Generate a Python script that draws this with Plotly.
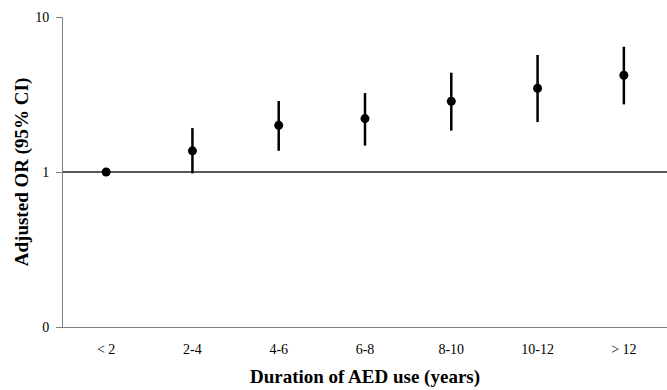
import plotly.graph_objects as go

categories = ["< 2", "2-4", "4-6", "6-8", "8-10", "10-12", "> 12"]
odds_ratio = [1.0, 1.37, 2.0, 2.21, 2.86, 3.47, 4.21]
ci_lower = [1.0, 0.98, 1.37, 1.48, 1.85, 2.10, 2.73]
ci_upper = [1.0, 1.92, 2.87, 3.23, 4.37, 5.69, 6.43]
y_tickvals = [0.1, 1, 10]
y_ticktext = ["0", "1", "10"]

err_plus = [u - o for u, o in zip(ci_upper, odds_ratio)]
err_minus = [o - l for o, l in zip(odds_ratio, ci_lower)]

fig = go.Figure()
fig.add_trace(go.Scatter(
    x=categories, y=odds_ratio, mode="markers",
    marker=dict(color="black", size=9),
    error_y=dict(type="data", symmetric=False, array=err_plus, arrayminus=err_minus,
                 color="black", thickness=2.5, width=0),
    showlegend=False,
))
fig.add_shape(type="line", xref="paper", yref="y", x0=0, x1=1, y0=1, y1=1,
              line=dict(color="#222222", width=1.5), layer="below")

fig.update_layout(
    width=667, height=390,
    margin=dict(l=63, r=0, t=17, b=63),
    paper_bgcolor="white", plot_bgcolor="white",
    font=dict(family="Liberation Serif", color="black", size=14),
    xaxis=dict(
        type="category", showgrid=False, showline=True, linecolor="#808080", linewidth=1,
        ticks="", ticklabelstandoff=9, zeroline=False,
        title=dict(text="<b>Duration of AED use (years)</b>", font=dict(size=19), standoff=13),
        range=[-0.5, 6.5],
    ),
    yaxis=dict(
        type="log", range=[-1, 1], tickvals=y_tickvals, ticktext=y_ticktext,
        showgrid=False, showline=True, linecolor="#808080", linewidth=1,
        ticks="outside", ticklen=6, tickcolor="#808080", zeroline=False,
        ticklabelstandoff=4,
        title=dict(text="<b>Adjusted OR (95% CI)</b>", font=dict(size=19), standoff=1),
    ),
)

fig.write_html("out.html")
